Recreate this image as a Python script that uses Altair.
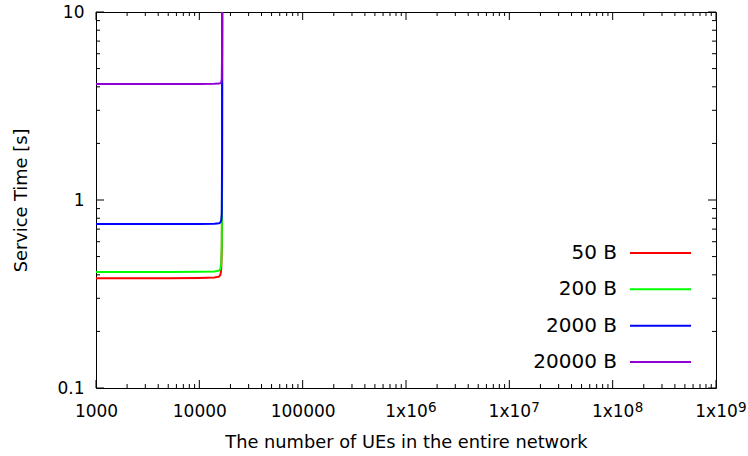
import altair as alt
import pandas as pd

FONT = "DejaVu Sans"

# Message sizes (legend order) and their line colours
sizes = ["50 B", "200 B", "2000 B", "20000 B"]
colors = ["#ff0000", "#00ff00", "#0000ff", "#9400d3"]

# Number of UEs in the network (x) and service time in seconds (y)
ue = [1000, 2000, 5000, 10000, 14000, 15500, 16000, 16300, 16500, 16600, 16650]
svc_50 = [0.384, 0.384, 0.384, 0.385, 0.387, 0.391, 0.40, 0.43, 0.55, 1.3, 20.0]
svc_200 = [0.414, 0.414, 0.414, 0.415, 0.417, 0.421, 0.43, 0.46, 0.58, 1.4, 20.0]
svc_2000 = [0.745, 0.745, 0.745, 0.746, 0.748, 0.752, 0.76, 0.78, 0.85, 1.8, 20.0]
svc_20000 = [4.14, 4.14, 4.14, 4.14, 4.15, 4.16, 4.18, 4.22, 4.4, 6.0, 20.0]
series = [svc_50, svc_200, svc_2000, svc_20000]

# Axis tick positions and labels (powers of ten above 1e5 get a raised exponent)
x_major = [1e3, 1e4, 1e5, 1e6, 1e7, 1e8, 1e9]
x_labels = ["1000", "10000", "100000", "1x10", "1x10", "1x10", "1x10"]
x_exp_values = [1e6, 1e7, 1e8, 1e9]
x_exponents = ["6", "7", "8", "9"]
x_minor = [k * 10 ** d for d in range(3, 9) for k in range(2, 10)]
y_major = [0.1, 1, 10]
y_labels = ["0.1", "1", "10"]
y_minor = [k * 10 ** d for d in (-1, 0) for k in range(2, 10)]

W, H = 620, 376
MAJ, MIN = 8, 4
LABEL_SIZE = 17
TITLE_SIZE = 17.8

xs = alt.Scale(type="log", domain=[1000, 1e9])
ys = alt.Scale(type="log", domain=[0.1, 10])


def label_expr(labels, offset):
    arr = "[" + ",".join("'%s'" % s for s in labels) + "]"
    return "%s[round(log(datum.value)/LN10) + %d]" % (arr, offset)


x_axis = alt.Axis(
    values=x_major, labelExpr=label_expr(x_labels, -3), ticks=False, domain=False,
    grid=False, labelPadding=28, labelBaseline="alphabetic", labelFontSize=LABEL_SIZE,
    labelFont=FONT, labelColor="black", labelOverlap=False, labelFlush=False,
    title="The number of UEs in the entire network", titleFont=FONT,
    titleFontSize=TITLE_SIZE, titleColor="black",
    titleFontWeight="normal", titleBaseline="alphabetic", titleX=W / 2, titleY=59,
)
y_axis = alt.Axis(
    values=y_major, labelExpr=label_expr(y_labels, 1), ticks=False, domain=False,
    grid=False, labelPadding=12, labelBaseline="middle", labelFontSize=LABEL_SIZE,
    labelFont=FONT, labelColor="black", labelOverlap=False, labelFlush=False,
    title="Service Time [s]", titleFont=FONT, titleFontSize=TITLE_SIZE,
    titleColor="black", titleFontWeight="normal",
    titleAngle=270, titleBaseline="middle", titleAlign="center", titleX=-75, titleY=H / 2,
)

# One line layer per message size so that larger sizes are drawn on top
line_layers = []
for i, (name, vals, col) in enumerate(zip(sizes, series, colors)):
    df = pd.DataFrame({"ue": ue, "svc": vals})
    if i == 0:
        ex = alt.X("ue:Q", scale=xs, axis=x_axis)
        ey = alt.Y("svc:Q", scale=ys, axis=y_axis)
    else:
        ex = alt.X("ue:Q", scale=xs)
        ey = alt.Y("svc:Q", scale=ys)
    line_layers.append(
        alt.Chart(df).mark_line(clip=True, strokeWidth=2, color=col).encode(x=ex, y=ey)
    )

# Inward-pointing ticks on all four sides of the frame
tick_layers = []
for vals, ln in ((x_major, MAJ), (x_minor, MIN)):
    tdf = pd.DataFrame({"ue": vals})
    tx = alt.X("ue:Q", scale=xs)
    tick_layers.append(alt.Chart(tdf).mark_rule(color="black", strokeWidth=1).encode(
        x=tx, y=alt.value(H), y2=alt.value(H - ln)))
    tick_layers.append(alt.Chart(tdf).mark_rule(color="black", strokeWidth=1).encode(
        x=tx, y=alt.value(0), y2=alt.value(ln)))
for vals, ln in ((y_major, MAJ), (y_minor, MIN)):
    tdf = pd.DataFrame({"svc": vals})
    ty = alt.Y("svc:Q", scale=ys)
    tick_layers.append(alt.Chart(tdf).mark_rule(color="black", strokeWidth=1).encode(
        y=ty, x=alt.value(0), x2=alt.value(ln)))
    tick_layers.append(alt.Chart(tdf).mark_rule(color="black", strokeWidth=1).encode(
        y=ty, x=alt.value(W), x2=alt.value(W - ln)))

# Raised exponents following the "1x10" tick labels
exp_df = pd.DataFrame({"ue": x_exp_values, "exp": x_exponents})
exp_layer = alt.Chart(exp_df).mark_text(
    align="left", baseline="alphabetic", fontSize=13.5, font=FONT, color="black", dx=22
).encode(x=alt.X("ue:Q", scale=xs), y=alt.value(H + 24), text="exp:N")

main = alt.layer(*line_layers, *tick_layers, exp_layer)

# Key: label on the left, line sample on the right
leg_df = pd.DataFrame({"size": sizes})
leg_y = alt.Y("size:N", scale=alt.Scale(type="point", domain=sizes, range=[241, 350], padding=0), axis=None)
leg_text = alt.Chart(leg_df).mark_text(
    align="right", baseline="middle", fontSize=20, font=FONT, color="black"
).encode(x=alt.value(521), y=leg_y, text="size:N")
leg_line = alt.Chart(leg_df).mark_rule(strokeWidth=2).encode(
    x=alt.value(534), x2=alt.value(595), y=leg_y,
    color=alt.Color("size:N", scale=alt.Scale(domain=sizes, range=colors), legend=None),
)
key = alt.layer(leg_text, leg_line)

chart = (
    alt.layer(main, key)
    .resolve_scale(y="independent", color="independent")
    .properties(
        width=W, height=H,
        autosize=alt.AutoSizeParams(type="none"),
        padding={"left": 96, "top": 12, "right": 32, "bottom": 68},
        background="white",
    )
    .configure_view(stroke="black", strokeWidth=1)
    .configure_axis(labelFont=FONT, titleFont=FONT, labelColor="black", titleColor="black")
)

chart.save("out.html", embed_options={"renderer": "svg", "actions": False})
